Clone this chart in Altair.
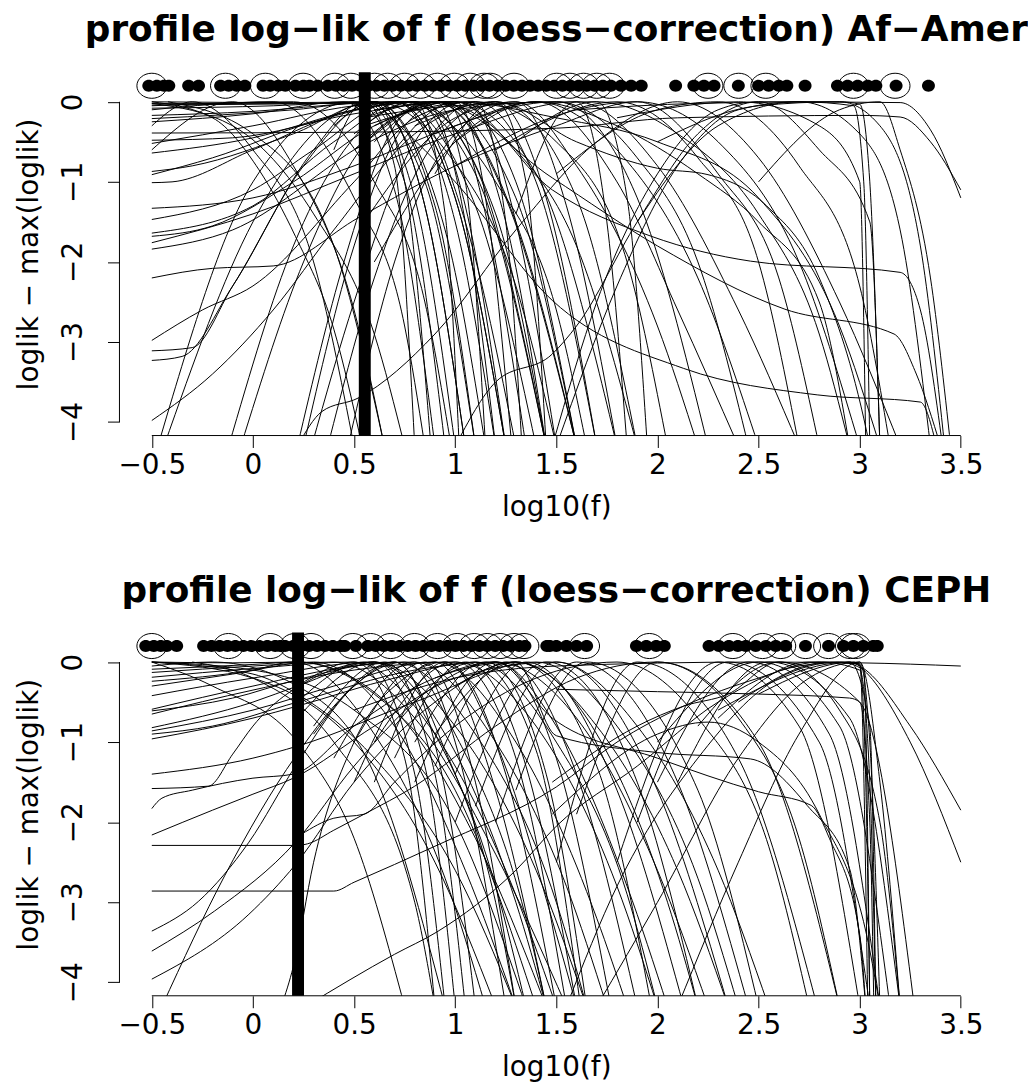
import altair as alt
import pandas as pd

X_DOMAIN = [-0.66, 3.66]
Y_DOMAIN = [-4.168, 0.368]
X_TICKS = [-0.5, 0, 0.5, 1, 1.5, 2, 2.5, 3, 3.5]
Y_TICKS = [-4, -3, -2, -1, 0]
DOT_ROW_Y = 0.2

top_title = "profile log−lik of f (loess−correction) Af−Amer"
bottom_title = "profile log−lik of f (loess−correction) CEPH"
x_title = "log10(f)"
y_title = "loglik − max(loglik)"

top_mle = 0.553
bottom_mle = 0.223

top_dots = [-0.515, -0.475, -0.44, -0.416, -0.318, -0.269, -0.16, -0.12, -0.08, -0.04,
            0.05, 0.085, 0.125, 0.16, 0.21, 0.25, 0.28, 0.32,
            0.37, 0.41, 0.45, 0.49, 0.53, 0.57, 0.61, 0.65, 0.69, 0.73, 0.77, 0.81, 0.85,
            0.89, 0.93, 0.97, 1.01, 1.05, 1.09, 1.13, 1.17, 1.21, 1.25, 1.29, 1.33, 1.37,
            1.41, 1.45, 1.49, 1.53, 1.57, 1.61, 1.65, 1.69,
            1.73, 1.77, 1.82, 1.87, 1.92, 2.09, 2.18, 2.23, 2.28, 2.40, 2.50, 2.55, 2.60,
            2.64, 2.73, 2.89, 2.94, 2.99, 3.04, 3.08, 3.18, 3.34]
top_circles = [-0.5, -0.136, 0.061, 0.248, 0.405, 0.484, 0.602, 0.666, 0.75, 0.828, 0.912,
               0.996, 1.074, 1.143, 1.173, 1.291, 1.502, 1.567, 1.635, 1.70, 1.763, 2.25,
               2.402, 2.536, 2.969, 3.175]

bottom_dots = [-0.53, -0.49, -0.456, -0.426, -0.377,
               -0.244, -0.205, -0.165, -0.126, -0.087, -0.047, -0.008, 0.031, 0.071, 0.11, 0.135,
               0.159, 0.199, 0.238, 0.277, 0.317, 0.356, 0.395, 0.435, 0.454, 0.509,
               0.568, 0.607, 0.647, 0.686, 0.725, 0.765, 0.804, 0.843, 0.883, 0.922, 0.962,
               1.001, 1.04, 1.08, 1.119, 1.158, 1.198, 1.237, 1.276, 1.316, 1.345,
               1.453, 1.468, 1.50, 1.55, 1.60, 1.65,
               1.896, 1.945, 1.994, 2.034,
               2.255, 2.304, 2.353, 2.398, 2.437, 2.486, 2.536, 2.585, 2.634, 2.732, 2.846,
               2.92, 2.969, 3.018, 3.067, 3.087]
bottom_circles = [-0.5, -0.121, 0.085, 0.208, 0.287, 0.494, 0.582, 0.681, 0.799, 0.912, 1.01,
                  1.094, 1.158, 1.222, 1.291, 1.34, 1.64, 1.96, 2.373, 2.52, 2.61, 2.733,
                  2.846, 2.954, 2.979]

top_curves = [
    [[-0.5, 0.0], [0.2, -0.01], [0.6, 0.0], [0.95, -0.6], [1.3, -2.3], [1.5, -4.3]],
    [[-0.5, -0.02], [0.3, -0.02], [0.75, 0.0], [1.1, -0.9], [1.45, -4.3]],
    [[-0.5, -0.04], [0.4, -0.02], [0.9, 0.0], [1.25, -1.2], [1.6, -4.3]],
    [[-0.5, -0.08], [0.1, -0.05], [0.55, 0.0], [0.85, -1.0], [1.1, -4.3]],
    [[-0.5, -0.17], [0.0, -0.12], [0.5, -0.02], [0.7, 0.0], [1.0, -1.2], [1.25, -4.3]],
    [[-0.5, -0.21], [0.2, -0.1], [0.6, 0.0], [0.9, -1.3], [1.1, -4.3]],
    [[-0.5, -0.25], [0.0, -0.15], [0.45, 0.0], [0.7, -1.1], [0.9, -4.3]],
    [[-0.5, -0.39], [0.5, -0.38], [1.5, -0.33], [2.1, -0.2], [3.0, -0.17], [3.2, -0.19], [3.35, -0.5], [3.5, -1.1]],
    [[-0.5, -0.48], [-0.1, -0.45], [0.5, -0.15], [1.0, 0.0], [1.4, -0.9], [1.8, -4.3]],
    [[-0.5, -0.52], [0.0, -0.3], [0.5, -0.05], [0.8, 0.0], [1.1, -0.8], [1.45, -4.3]],
    [[-0.5, -0.64], [0.0, -0.45], [0.5, -0.1], [0.7, 0.0], [1.0, -1.5], [1.2, -4.3]],
    [[-0.5, -0.87], [-0.3, -0.8], [0.2, -0.4], [0.6, 0.0], [0.95, -1.6], [1.15, -4.3]],
    [[-0.5, -0.91], [-0.2, -0.7], [0.3, -0.25], [0.8, 0.0], [1.2, -1.4], [1.45, -4.3]],
    [[-0.5, -1.01], [-0.4, -1.0], [0.0, -0.6], [0.5, -0.1], [0.9, 0.0], [1.3, -1.5], [1.6, -4.3]],
    [[-0.5, -1.33], [0.0, -1.2], [0.5, -0.8], [1.0, -0.3], [1.4, 0.0], [1.8, -0.6], [2.2, -2.2], [2.5, -4.3]],
    [[-0.5, -1.47], [0.0, -1.1], [0.3, -0.6], [0.7, 0.0], [1.0, -1.2], [1.25, -4.3]],
    [[-0.5, -1.64], [0.0, -1.3], [0.4, -0.5], [0.75, 0.0], [1.05, -1.5], [1.3, -4.3]],
    [[-0.5, -1.68], [-0.2, -1.55], [0.2, -1.0], [0.6, -0.3], [1.0, 0.0], [1.3, -1.0], [1.6, -4.3]],
    [[-0.5, -1.76], [0.0, -1.4], [0.5, -0.9], [1.0, -0.4], [1.6, 0.0], [2.0, -0.8], [2.4, -2.6], [2.7, -4.3]],
    [[-0.5, -1.84], [-0.1, -1.6], [0.5, -0.6], [0.9, 0.0], [1.3, -1.2], [1.6, -4.3]],
    [[-0.5, -2.2], [-0.2, -2.08], [0.1, -2.05], [0.52, -1.45], [1.0, -0.8], [1.5, -0.3], [1.9, 0.0], [2.3, -0.5], [2.7, -2.0], [3.0, -4.3]],
    [[-0.5, -2.98], [-0.25, -2.6], [0.0, -2.3], [0.5, -1.0], [0.8, -0.2], [1.1, 0.0], [1.4, -1.0], [1.7, -4.3]],
    [[-0.5, -3.11], [-0.3, -3.07], [-0.1, -2.3], [0.3, -0.6], [0.55, 0.0], [0.8, -1.2], [1.0, -4.3]],
    [[-0.5, -3.23], [-0.35, -3.18], [-0.1, -2.3], [0.25, -0.8], [0.6, 0.0], [0.85, -1.3], [1.05, -4.3]],
    [[-0.5, -3.98], [-0.2, -3.4], [0.1, -2.6], [0.4, -1.6], [0.8, -0.4], [1.2, 0.0], [1.6, -1.2], [1.9, -4.3]],
    [[-0.47, -4.3], [0.0, -1.0], [0.5, 0.0], [0.75, -1.0], [0.95, -4.3]],
    [[-0.44, -4.3], [0.0, -1.5], [0.45, -0.1], [0.6, 0.0], [0.85, -1.3], [1.05, -4.3]],
    [[-0.12, -4.3], [0.2, -1.8], [0.6, -0.2], [0.8, 0.0], [1.05, -1.3], [1.25, -4.3]],
    [[-0.06, -4.3], [0.25, -2.0], [0.6, -0.4], [0.95, 0.0], [1.25, -1.5], [1.45, -4.3]],
    [[0.22, -4.3], [0.45, -2.0], [0.7, -0.3], [0.85, 0.0], [1.05, -1.5], [1.2, -4.3]],
    [[0.25, -4.3], [0.5, -1.8], [0.75, -0.3], [0.95, 0.0], [1.15, -1.4], [1.35, -4.3]],
    [[0.29, -4.3], [0.5, -2.5], [0.8, -0.5], [1.05, 0.0], [1.3, -1.5], [1.5, -4.3]],
    [[0.37, -4.3], [0.6, -2.2], [0.9, -0.5], [1.2, 0.0], [1.45, -1.2], [1.7, -4.3]],
    [[0.47, -4.3], [0.7, -2.0], [1.0, -0.4], [1.3, 0.0], [1.55, -1.3], [1.8, -4.3]],
    [[0.22, -4.3], [0.34, -3.87], [0.52, -3.7], [0.9, -2.9], [1.3, -1.6], [1.7, -0.5], [2.1, 0.0], [2.5, -0.7], [2.9, -2.5], [3.2, -4.3]],
    [[1.0, -4.3], [1.2, -3.5], [1.48, -3.15], [1.6, -2.8], [1.9, -1.5], [2.2, -0.4], [2.5, 0.0], [2.8, -0.6], [3.05, -1.5], [3.1, -4.3]],
    [[-0.5, 0.0], [-0.2, -0.2], [0.03, -0.85], [0.21, -1.68], [0.4, -2.84], [0.54, -4.3]],
    [[-0.5, -0.02], [-0.1, -0.3], [0.3, -1.4], [0.6, -2.9], [0.75, -4.3]],
    [[-0.42, 0.0], [0.0, -0.4], [0.4, -1.8], [0.65, -4.3]],
    [[0.55, -1.5], [1.0, -0.2], [1.3, 0.0], [1.6, -0.8], [2.0, -2.8], [2.2, -4.3]],
    [[0.6, -2.0], [1.0, -0.5], [1.4, 0.0], [1.8, -1.0], [2.1, -2.6], [2.4, -4.3]],
    [[0.5, -0.6], [1.0, -0.1], [1.5, 0.0], [1.9, -1.2], [2.25, -4.3]],
    [[0.55, -0.3], [1.1, 0.0], [1.5, -0.5], [1.85, -2.0], [2.05, -4.3]],
    [[0.55, -0.2], [0.9, 0.0], [1.3, -0.6], [1.6, -1.8], [1.9, -4.3]],
    [[0.55, -0.1], [0.75, 0.0], [1.2, -1.0], [1.5, -2.6], [1.65, -4.3]],
    [[0.5, -0.05], [0.7, 0.0], [1.1, -1.3], [1.4, -4.3]],
    [[0.6, -0.3], [1.0, 0.0], [1.48, -1.1], [1.97, -1.68], [2.46, -1.99], [3.2, -2.13], [3.3, -2.6], [3.41, -4.3]],
    [[0.5, -0.6], [0.9, 0.0], [1.48, -0.95], [2.0, -1.8], [2.63, -2.59], [3.17, -2.9], [3.28, -3.4], [3.4, -4.3]],
    [[0.6, 0.0], [1.0, -1.0], [1.48, -2.48], [2.13, -3.33], [2.79, -3.66], [3.3, -3.75], [3.38, -4.3]],
    [[0.8, -0.3], [1.2, 0.0], [1.6, -0.5], [2.0, -0.83], [2.25, -0.91], [2.54, -1.3], [2.8, -2.2], [3.02, -3.95], [3.05, -4.3]],
    [[1.0, -0.5], [1.4, 0.0], [1.8, -0.3], [2.2, -0.9], [2.5, -1.5], [2.8, -2.5], [2.95, -4.3]],
    [[1.48, -4.3], [1.7, -2.5], [2.0, -0.9], [2.3, -0.1], [2.5, 0.0], [3.2, -0.01], [3.35, -0.35], [3.5, -1.2]],
    [[1.5, -4.3], [1.8, -2.3], [2.1, -0.8], [2.4, -0.1], [2.7, 0.0], [2.97, -0.05], [3.02, -1.0], [3.05, -4.3]],
    [[1.9, -1.5], [2.3, -0.3], [2.7, 0.0], [3.0, -0.4], [3.2, -1.6], [3.35, -4.3]],
    [[1.5, -0.9], [2.0, -0.1], [2.3, 0.0], [2.7, -0.8], [3.0, -2.3], [3.15, -4.3]],
    [[1.0, -0.8], [1.6, -0.1], [1.9, 0.0], [2.3, -0.9], [2.6, -2.2], [2.8, -4.3]],
    [[1.2, -0.6], [1.8, 0.0], [2.2, -0.7], [2.5, -2.0], [2.7, -4.3]],
    [[0.9, -0.4], [1.5, 0.0], [1.9, -0.7], [2.2, -2.0], [2.45, -4.3]],
    [[2.5, -1.0], [2.9, -0.1], [3.1, 0.0], [3.2, -0.6], [3.35, -2.2], [3.45, -4.3]],
    [[2.0, -0.5], [2.5, -0.05], [2.9, 0.0], [3.1, -0.3], [3.3, -1.8], [3.42, -4.3]],
    [[1.6, -0.1], [2.2, -0.02], [2.9, 0.0], [3.0, -0.03], [3.05, -1.0], [3.1, -4.3]],
    [[1.8, -0.2], [2.4, 0.0], [2.8, -0.3], [3.0, -1.0], [3.03, -4.3]],
    [[0.6, -0.1], [1.0, 0.0], [1.5, -0.2], [2.0, -0.5], [2.5, -1.2], [2.9, -2.8], [3.1, -4.3]],
    [[0.55, -0.2], [1.0, -0.05], [1.7, 0.0], [2.1, -0.4], [2.5, -1.4], [2.8, -2.9], [2.95, -4.3]],
    [[0.4, -0.6], [0.55, 0.0], [0.7, -0.8], [0.8, -4.3]],
    [[0.4, -0.3], [0.6, 0.0], [0.75, -1.0], [0.88, -4.3]],
    [[0.5, -0.4], [0.8, 0.0], [0.95, -1.4], [1.02, -4.3]],
    [[0.6, -0.5], [0.9, 0.0], [1.05, -1.0], [1.15, -4.3]],
    [[0.7, -0.6], [1.0, 0.0], [1.15, -1.2], [1.28, -4.3]],
    [[0.8, -0.7], [1.1, 0.0], [1.25, -1.5], [1.33, -4.3]],
    [[0.9, -0.9], [1.2, 0.0], [1.35, -1.0], [1.45, -4.3]],
    [[1.3, -1.4], [1.6, 0.0], [1.75, -1.5], [1.85, -4.3]],
    [[1.3, -0.5], [1.7, 0.0], [1.85, -1.2], [1.95, -4.3]],
    [[-0.5, -0.3], [-0.3, 0.0], [0.0, -0.6], [0.3, -2.0], [0.5, -4.3]],
    [[-0.5, -0.6], [-0.1, 0.0], [0.2, -0.8], [0.5, -2.6], [0.65, -4.3]],
    [[-0.5, -0.1], [0.1, 0.0], [0.5, -1.2], [0.75, -2.8], [0.85, -4.3]],
    [[-0.5, -0.05], [0.2, 0.0], [0.6, -1.0], [0.85, -2.5], [0.98, -4.3]],
]

bottom_curves = [
    [[-0.5, 0.0], [-0.1, -0.01], [0.22, 0.0], [0.6, -0.4], [1.0, -1.6], [1.4, -4.3]],
    [[-0.5, 0.0], [0.0, -0.15], [0.22, -0.4], [0.6, -1.2], [1.0, -2.6], [1.3, -4.3]],
    [[-0.5, 0.0], [0.0, -0.1], [0.5, -0.6], [1.0, -2.0], [1.35, -4.3]],
    [[-0.5, 0.0], [0.0, -0.2], [0.5, -1.0], [0.9, -2.5], [1.2, -4.3]],
    [[-0.5, -0.05], [-0.2, 0.0], [0.22, -0.3], [0.6, -1.4], [0.95, -4.3]],
    [[-0.5, -0.09], [0.0, -0.03], [0.22, 0.0], [0.7, -0.6], [1.1, -2.2], [1.45, -4.3]],
    [[-0.5, -0.13], [0.0, -0.05], [0.4, 0.0], [0.8, -0.7], [1.2, -2.4], [1.55, -4.3]],
    [[-0.5, -0.19], [0.0, -0.08], [0.5, 0.0], [0.9, -0.9], [1.25, -2.6], [1.5, -4.3]],
    [[-0.5, -0.24], [0.0, -0.1], [0.2, 0.0], [0.6, -0.9], [0.95, -2.7], [1.15, -4.3]],
    [[-0.5, -0.30], [-0.1, -0.15], [0.3, 0.0], [0.7, -0.8], [1.05, -2.6], [1.3, -4.3]],
    [[-0.5, -0.42], [0.0, -0.2], [0.6, 0.0], [1.0, -0.8], [1.4, -2.6], [1.65, -4.3]],
    [[-0.5, -0.59], [0.0, -0.3], [0.5, -0.05], [0.8, 0.0], [1.2, -1.0], [1.55, -2.8], [1.75, -4.3]],
    [[-0.5, -0.61], [-0.1, -0.45], [0.22, -0.22], [0.7, 0.0], [1.1, -0.9], [1.5, -3.0], [1.65, -4.3]],
    [[-0.5, -0.65], [0.0, -0.35], [0.5, -0.1], [1.0, 0.0], [1.4, -0.8], [1.8, -2.8], [2.0, -4.3]],
    [[-0.5, -0.82], [0.0, -0.5], [0.22, -0.3], [0.6, 0.0], [0.95, -0.9], [1.3, -3.0], [1.45, -4.3]],
    [[-0.5, -0.86], [0.0, -0.6], [0.4, -0.3], [0.9, 0.0], [1.3, -1.0], [1.7, -3.2], [1.85, -4.3]],
    [[-0.5, -0.90], [-0.2, -0.8], [0.22, -0.5], [0.8, -0.1], [1.2, 0.0], [1.6, -0.7], [2.0, -2.6], [2.25, -4.3]],
    [[-0.5, -0.96], [0.0, -0.7], [0.22, -0.55], [0.7, -0.2], [1.1, 0.0], [1.5, -1.0], [1.85, -2.9], [2.0, -4.3]],
    [[-0.5, -1.40], [0.0, -1.2], [0.22, -1.05], [0.8, -0.5], [1.4, 0.0], [1.8, -0.8], [2.2, -2.7], [2.4, -4.3]],
    [[-0.5, -1.58], [-0.22, -1.55], [-0.1, -1.15], [0.0, -0.8], [0.3, -0.2], [0.6, 0.0], [0.9, -0.9], [1.2, -2.8], [1.35, -4.3]],
    [[-0.5, -1.83], [-0.45, -1.7], [-0.3, -1.6], [0.0, -1.45], [0.2, -1.4], [0.5, -0.8], [0.9, -0.2], [1.3, 0.0], [1.7, -0.8], [2.1, -2.6], [2.35, -4.3]],
    [[-0.5, -2.16], [-0.2, -1.85], [0.0, -1.65], [0.2, -1.45], [0.6, -0.8], [1.0, -0.2], [1.5, 0.0], [1.9, -0.8], [2.3, -2.6], [2.55, -4.3]],
    [[-0.5, -2.29], [0.22, -2.29], [0.27, -2.27], [0.4, -2.1], [0.55, -1.9], [0.8, -1.55], [1.2, -0.8], [1.6, -0.2], [2.0, 0.0], [2.4, -0.7], [2.7, -2.2], [2.9, -4.3]],
    [[-0.5, -2.86], [0.4, -2.86], [0.5, -2.75], [0.9, -2.3], [1.5, -1.56], [1.8, -1.0], [2.13, -0.55], [2.5, -0.2], [2.8, 0.0], [3.0, -0.1], [3.05, -1.5], [3.08, -4.3]],
    [[-0.5, -3.36], [-0.27, -2.99], [-0.02, -2.25], [0.21, -1.3], [0.5, -0.3], [0.75, 0.0], [1.0, -0.9], [1.35, -3.2], [1.45, -4.3]],
    [[-0.5, -3.61], [-0.19, -3.11], [0.21, -2.25], [0.5, -1.3], [0.9, -0.3], [1.2, 0.0], [1.5, -0.8], [1.85, -2.8], [2.05, -4.3]],
    [[-0.5, -3.96], [-0.02, -3.15], [0.21, -2.53], [0.5, -1.5], [0.9, -0.5], [1.3, 0.0], [1.7, -0.9], [2.05, -3.0], [2.2, -4.3]],
    [[-0.45, -4.3], [-0.14, -2.67], [0.21, -1.18], [0.5, -0.3], [0.7, 0.0], [0.95, -1.1], [1.2, -3.0], [1.3, -4.3]],
    [[0.14, -4.3], [0.2, -3.8], [0.3, -2.5], [0.5, -1.0], [0.75, -0.2], [0.95, 0.0], [1.2, -1.0], [1.5, -3.4], [1.6, -4.3]],
    [[0.26, -4.3], [0.7, -3.65], [0.91, -3.37], [1.3, -2.6], [1.5, -2.05], [1.9, -1.3], [2.3, -0.5], [2.7, -0.05], [2.95, 0.0], [3.05, -0.8], [3.08, -4.3]],
    [[0.24, -2.15], [0.4, -1.95], [0.55, -1.9], [0.7, -1.5], [1.0, -0.8], [1.4, -0.2], [1.8, 0.0], [2.2, -0.7], [2.55, -2.3], [2.75, -4.3]],
    [[0.22, -0.3], [0.5, 0.0], [0.75, -1.2], [0.9, -4.3]],
    [[0.22, -0.5], [0.55, 0.0], [0.8, -1.4], [0.95, -4.3]],
    [[0.22, -0.7], [0.6, 0.0], [0.85, -1.3], [1.0, -4.3]],
    [[0.3, -0.8], [0.65, 0.0], [0.9, -1.4], [1.05, -4.3]],
    [[0.3, -0.9], [0.7, 0.0], [0.95, -1.6], [1.1, -4.3]],
    [[0.4, -1.2], [0.8, 0.0], [1.0, -1.0], [1.25, -4.3]],
    [[0.5, -1.0], [0.85, 0.0], [1.1, -1.5], [1.3, -4.3]],
    [[0.5, -1.5], [0.9, 0.0], [1.2, -1.6], [1.45, -4.3]],
    [[0.6, -1.5], [0.95, 0.0], [1.25, -1.4], [1.5, -4.3]],
    [[0.6, -1.0], [1.0, 0.0], [1.3, -1.2], [1.55, -4.3]],
    [[0.7, -1.2], [1.05, 0.0], [1.35, -1.3], [1.6, -4.3]],
    [[0.7, -0.8], [1.1, 0.0], [1.4, -1.1], [1.62, -4.3]],
    [[0.8, -1.0], [1.15, 0.0], [1.45, -1.4], [1.65, -4.3]],
    [[0.8, -1.5], [1.2, 0.0], [1.5, -1.2], [1.77, -4.3]],
    [[0.9, -1.3], [1.25, 0.0], [1.6, -1.4], [1.9, -4.3]],
    [[0.9, -0.9], [1.3, 0.0], [1.7, -1.3], [1.97, -4.3]],
    [[1.0, -1.4], [1.35, 0.0], [1.8, -1.6], [2.13, -4.3]],
    [[1.0, -2.0], [1.45, 0.0], [1.9, -1.5], [2.2, -4.3]],
    [[1.1, -1.8], [1.5, 0.0], [2.0, -1.6], [2.35, -4.3]],
    [[1.2, -2.0], [1.6, 0.0], [2.1, -1.5], [2.45, -4.3]],
    [[1.3, -1.6], [1.65, 0.0], [2.2, -1.6], [2.5, -4.3]],
    [[1.5, -2.5], [1.9, 0.0], [2.4, -1.2], [2.79, -4.3]],
    [[1.6, -1.9], [2.0, 0.0], [2.5, -1.0], [2.9, -4.3]],
    [[1.8, -2.5], [2.3, 0.0], [2.7, -0.8], [3.0, -4.3]],
    [[1.9, -2.0], [2.35, 0.0], [2.8, -1.0], [3.05, -4.3]],
    [[2.0, -1.5], [2.45, 0.0], [2.85, -0.9], [3.1, -4.3]],
    [[2.0, -1.0], [2.5, 0.0], [2.9, -0.8], [3.15, -4.3]],
    [[2.1, -1.5], [2.55, 0.0], [2.95, -0.7], [3.2, -4.3]],
    [[2.2, -0.8], [2.6, 0.0], [3.0, -0.5], [3.27, -4.3]],
    [[2.3, -0.7], [2.75, 0.0], [3.0, -0.02], [3.03, -1.5], [3.05, -4.3]],
    [[2.4, -0.5], [2.85, 0.0], [3.0, -0.03], [3.04, -4.3]],
    [[2.3, -0.6], [2.95, 0.0], [3.0, -0.05], [3.25, -0.8], [3.5, -1.85]],
    [[2.5, -0.4], [2.97, 0.0], [3.02, -0.1], [3.25, -1.0], [3.5, -2.5]],
    [[0.5, -0.6], [1.0, -0.2], [1.5, -0.05], [2.5, 0.0], [3.0, -0.01], [3.5, -0.05]],
    [[1.5, -0.34], [2.0, -0.37], [2.5, -0.4], [2.95, -0.45], [3.0, -0.5], [3.05, -2.0], [3.07, -4.3]],
    [[1.0, -0.3], [1.3, 0.0], [1.5, -0.92], [2.0, -1.13], [2.46, -1.21], [2.74, -1.79], [2.95, -2.58], [3.03, -4.3]],
    [[0.9, -0.2], [1.2, 0.0], [1.48, -0.7], [2.0, -1.2], [2.5, -1.62], [2.76, -1.79], [2.85, -2.2], [3.0, -3.4], [3.03, -4.3]],
    [[1.48, -1.5], [1.9, -0.8], [2.13, -0.55], [2.35, -0.4], [2.6, 0.0], [2.9, -0.6], [3.1, -2.0], [3.2, -4.3]],
    [[1.48, -1.9], [2.0, -0.9], [2.25, -0.75], [2.5, -1.0], [2.8, -1.9], [3.05, -3.6], [3.1, -4.3]],
    [[1.55, -4.3], [1.8, -2.8], [2.2, -1.2], [2.6, -0.2], [2.9, 0.0], [3.02, -0.1], [3.05, -4.3]],
    [[1.7, -4.3], [2.0, -3.0], [2.4, -1.2], [2.75, -0.2], [3.0, 0.0], [3.05, -1.0], [3.1, -4.3]],
    [[2.1, -4.3], [2.4, -2.5], [2.7, -0.9], [3.0, 0.0], [3.1, -1.5], [3.2, -4.3]],
    [[-0.5, 0.0], [-0.2, -0.3], [0.22, -1.0], [0.5, -2.2], [0.75, -4.3]],
    [[-0.3, 0.0], [0.0, -0.2], [0.4, -1.0], [0.8, -3.0], [0.9, -4.3]],
]

FONT = "DejaVu Sans"
DOT_SHAPE = "M-1,0A1,0.92,0,1,0,1,0A1,0.92,0,1,0,-1,0Z"
RING_SHAPE = "M-1,0A1,0.84,0,1,0,1,0A1,0.84,0,1,0,-1,0Z"
W, H = 878, 365


def curve_frame(curves):
    rows = []
    for cid, pts in enumerate(curves):
        for k, (x, y) in enumerate(pts):
            rows.append({"curve": cid, "order": k, "x": x, "y": y})
    return pd.DataFrame(rows)


def panel(curves, dots, circles, mle, title):
    xs = alt.Scale(domain=X_DOMAIN, nice=False, zero=False)
    ys = alt.Scale(domain=Y_DOMAIN, nice=False, zero=False)
    x_axis = alt.Axis(values=X_TICKS, format="~g", tickSize=12, labelFontSize=28,
                      labelPadding=4, title=x_title, titleFontSize=28, titlePadding=14,
                      labelFlush=False, labelOverlap=False)
    y_axis = alt.Axis(values=Y_TICKS, format="~g", tickSize=12, labelFontSize=28,
                      labelAngle=270, labelAlign="center", labelBaseline="bottom",
                      labelPadding=20, title=y_title, titleFontSize=28, titlePadding=16,
                      labelFlush=False, labelOverlap=False)
    lines = alt.Chart(curve_frame(curves)).mark_line(
        color="black", strokeWidth=1, interpolate="monotone", clip=True
    ).encode(
        x=alt.X("x:Q", scale=xs, axis=x_axis),
        y=alt.Y("y:Q", scale=ys, axis=y_axis),
        detail="curve:N",
        order="order:Q",
    )
    mle_rule = alt.Chart(pd.DataFrame({"x": [mle]})).mark_rule(
        color="black", strokeWidth=12
    ).encode(x="x:Q", y=alt.value(0), y2=alt.value(H))
    ring = alt.Chart(pd.DataFrame({"x": circles, "y": DOT_ROW_Y})).mark_point(
        shape=RING_SHAPE, filled=False, size=900, color="black", strokeWidth=1, opacity=1
    ).encode(x="x:Q", y="y:Q")
    dot = alt.Chart(pd.DataFrame({"x": dots, "y": DOT_ROW_Y})).mark_point(
        shape=DOT_SHAPE, filled=True, size=169, color="black", opacity=1
    ).encode(x="x:Q", y="y:Q")
    base = alt.Chart(pd.DataFrame({"k": [0]}))
    y_line = base.mark_rule(color="black", strokeWidth=1).encode(
        x=alt.value(0), y=alt.datum(0), y2=alt.datum(-4))
    x_line = base.mark_rule(color="black", strokeWidth=1).encode(
        y=alt.value(H), x=alt.datum(-0.5), x2=alt.datum(3.5))
    return alt.layer(lines, mle_rule, ring, dot, y_line, x_line).properties(
        width=W, height=H,
        title=alt.TitleParams(text=title, fontSize=36, font=FONT, fontWeight="bold",
                              anchor="middle", color="black", offset=17),
    )


top = panel(top_curves, top_dots, top_circles, top_mle, top_title)
bottom = panel(bottom_curves, bottom_dots, bottom_circles, bottom_mle, bottom_title)

chart = alt.vconcat(top, bottom, spacing=52).properties(
    padding={"left": 8, "top": 2, "right": 0, "bottom": 0}
).configure_view(stroke=None).configure_axis(
    grid=False, domain=False, labelFont=FONT, titleFont=FONT, labelColor="black",
    titleColor="black", tickColor="black", tickWidth=1, titleFontWeight="normal"
)

chart.save("out.html", embed_options={"renderer": "svg", "actions": False})
